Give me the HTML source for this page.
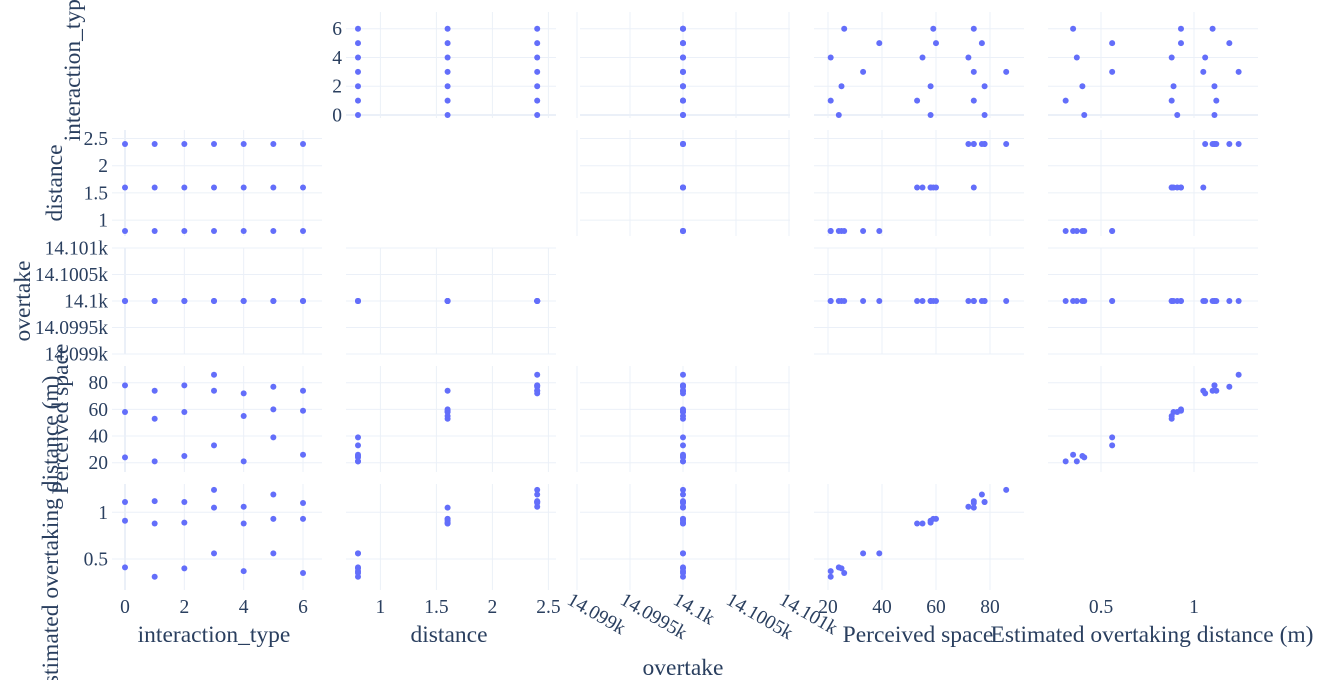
<!DOCTYPE html>
<html><head><meta charset="utf-8"><style>
html,body{margin:0;padding:0;background:#fff;}
svg{display:block;font-family:"Liberation Serif",serif;}
</style></head><body>
<svg id="chart" width="1320" height="680" viewBox="0 0 1320 680"></svg>
<script>
const interactionType=[0,0,0,1,1,1,2,2,2,3,3,3,4,4,4,5,5,5,6,6,6];
const distanceVals=[0.8,1.6,2.4,0.8,1.6,2.4,0.8,1.6,2.4,0.8,1.6,2.4,0.8,1.6,2.4,0.8,1.6,2.4,0.8,1.6,2.4];
const overtakeVals=[14100,14100,14100,14100,14100,14100,14100,14100,14100,14100,14100,14100,14100,14100,14100,14100,14100,14100,14100,14100,14100];
const perceivedVals=[24,58,78,21,53,74,25,58,78,33,74,86,21,55,72,39,60,77,26,59,74];
const estimatedVals=[0.41,0.91,1.11,0.31,0.88,1.12,0.40,0.89,1.11,0.56,1.05,1.24,0.37,0.88,1.06,0.56,0.93,1.19,0.35,0.93,1.10];
const varNames=["interaction_type","distance","overtake","Perceived space","Estimated overtaking distance (m)"];
const ticksInteraction=[0,2,4,6];
const ticksDistance=[1,1.5,2,2.5];
const ticksOvertake=[14099,14099.5,14100,14100.5,14101];
const labelsOvertake=["14.099k","14.0995k","14.1k","14.1005k","14.101k"];
const ticksPerceived=[20,40,60,80];
const ticksEstimated=[0.5,1];

const series=[interactionType,distanceVals,overtakeVals,perceivedVals,estimatedVals];
const tickSets=[ticksInteraction,ticksDistance,ticksOvertake,ticksPerceived,ticksEstimated];
const tickLabels=[null,null,labelsOvertake,null,null];
const colL=[112,346,580,814,1048], colW=210;
const rowT=[12,130,248,366,484], rowH=106;
const xMap=[
 v=>125+(v-0)*29.67,
 v=>358+(v-0.8)*112,
 v=>683+(v-14100)*106,
 v=>828+(v-20)*2.7,
 v=>1101+(v-0.5)*186];
const yMap=[
 v=>115-(v-0)*14.38,
 v=>231-(v-0.8)*54.4,
 v=>301-(v-14100)*53,
 v=>462.7-(v-20)*1.333,
 v=>512.3-(v-1)*93.4];
const svg=document.getElementById('chart');
const NS='http://www.w3.org/2000/svg';
function mk(tag,attrs,parent){const e=document.createElementNS(NS,tag);for(const k in attrs)e.setAttribute(k,attrs[k]);(parent||svg).appendChild(e);return e;}
function lab(v,i){return tickLabels[i]?tickLabels[i][tickSets[i].indexOf(v)]:String(v);}
const gridC='#ebf0f8', txtC='#2a3f5f';
for(let r=0;r<5;r++){for(let c=0;c<5;c++){
 if(r===c)continue;
 const g=mk('g',{});
 
 
 for(const t of tickSets[c]){const x=xMap[c](t);mk('line',{x1:x,x2:x,y1:rowT[r],y2:rowT[r]+rowH,stroke:gridC,'stroke-width':(t===0?2:1)},g);}
 for(const t of tickSets[r]){const y=yMap[r](t);mk('line',{x1:colL[c],x2:colL[c]+colW,y1:y,y2:y,stroke:gridC,'stroke-width':(t===0?2:1)},g);}
 for(let i=0;i<series[0].length;i++){
  const p=mk('circle',{cx:xMap[c](series[c][i]),cy:yMap[r](series[r][i]),r:3,fill:'#636efa'},g);
  
  
 }
}}
for(let r=0;r<5;r++){
 const c=(r===0)?1:0;
 for(const t of tickSets[r]){
  const e=mk('text',{x:colL[c]-4,y:yMap[r](t)+6.5,'text-anchor':'end','font-size':19.5,fill:txtC});
  e.textContent=lab(t,r);
  
  
 }
}
for(let c=0;c<5;c++){
 for(const t of tickSets[c]){
  const x=xMap[c](t);
  let e;
  if(c===2){e=mk('text',{x:x-8,y:604,'text-anchor':'start','font-size':19.5,fill:txtC,transform:'rotate(30 '+(x-8)+' 598)'});}
  else e=mk('text',{x:x,y:613,'text-anchor':'middle','font-size':19.5,fill:txtC});
  e.textContent=lab(t,c);
  
  
 }
}
const xTitleY=[642,642,675,642,642];
const xTitleX=[214,449,683,918,1152];
for(let c=0;c<5;c++){
 const e=mk('text',{x:xTitleX[c],y:xTitleY[c],'text-anchor':'middle','font-size':23.5,fill:txtC});
 e.textContent=varNames[c];
 
 
}
const yTitleX=[80,62,30,68,58];
for(let r=0;r<5;r++){
 const cx=yTitleX[r], cy=rowT[r]+rowH/2;
 const e=mk('text',{x:cx,y:cy,'text-anchor':'middle','font-size':23.5,fill:txtC,transform:'rotate(-90 '+cx+' '+cy+')'});
 e.textContent=varNames[r];
 
 
}
</script>
</body></html>
